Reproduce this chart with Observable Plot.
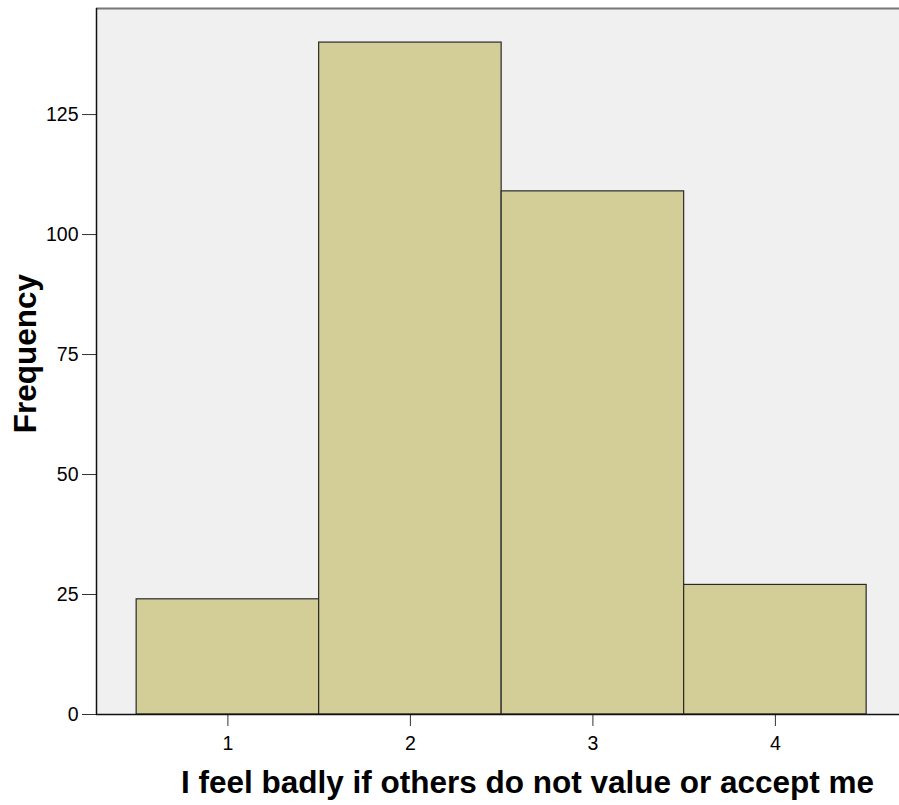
<!DOCTYPE html>
<html>
<head>
<meta charset="utf-8">
<script src="https://cdn.jsdelivr.net/npm/d3@7"></script>
<script src="https://cdn.jsdelivr.net/npm/@observablehq/plot@0.6"></script>
<style>
  html, body { margin: 0; padding: 0; background: #ffffff; }
</style>
</head>
<body>
<div id="chart"></div>
<script>
// Data
const categories = [1, 2, 3, 4];
const frequencies = [24, 140, 109, 27];
const xTicks = [1, 2, 3, 4];
const yTicks = [0, 25, 50, 75, 100, 125];
const xLabel = "I feel badly if others do not value or accept me";
const yLabel = "Frequency";

const xDomain = [0.28, 4.68];
const yDomain = [0, 147.1];

const bars = categories.map((c, i) => ({x1: c - 0.5, x2: c + 0.5, y: frequencies[i]}));

const chart = Plot.plot({
  width: 899,
  height: 805,
  marginLeft: 96,
  marginRight: 0,
  marginTop: 8,
  marginBottom: 91,
  style: {fontFamily: "Arial, 'Liberation Sans', sans-serif", fontSize: "19.5px", background: "#ffffff", color: "#000"},
  x: {domain: xDomain},
  y: {domain: yDomain},
  marks: [
    Plot.frame({fill: "#f0f0f0", stroke: null}),
    Plot.ruleY([yDomain[1]], {stroke: "#777777", strokeWidth: 2}),
    Plot.rectY(bars, {x1: "x1", x2: "x2", y: "y", fill: "#d3ce97", stroke: "#2a2a2a", strokeWidth: 1.2, inset: 0}),
    Plot.axisY({ticks: yTicks, tickSize: 14, tickPadding: 4, label: null, fontSize: 19.5, stroke: "#333", tickFormat: d3.format("d")}),
    Plot.axisX({ticks: xTicks, tickSize: 12, tickPadding: 10, label: null, fontSize: 19.5, stroke: "#333", tickFormat: d3.format("d")}),
    Plot.ruleX([xDomain[0]], {stroke: "#111", strokeWidth: 1.5}),
    Plot.ruleY([0], {stroke: "#111", strokeWidth: 1.5}),
    Plot.text([xLabel], {frameAnchor: "bottom", text: d => d, dy: 78, dx: 29.5, textAnchor: "middle", lineAnchor: "bottom", fontSize: 31.5, fontWeight: "bold", fill: "#000"}),
    Plot.text([yLabel], {frameAnchor: "left", text: d => d, rotate: -90, dx: -60.5, dy: -8, textAnchor: "middle", lineAnchor: "bottom", fontSize: 31.5, fontWeight: "bold", fill: "#000"})
  ]
});
document.getElementById("chart").appendChild(chart);
</script>
</body>
</html>
